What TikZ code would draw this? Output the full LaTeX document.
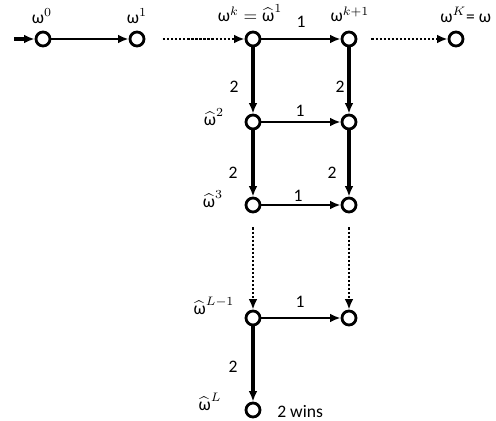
\documentclass[tikz,border=0pt]{standalone}
\usepackage{amsmath}
\usepackage{fontspec}
\setmainfont{Carlito}
\usetikzlibrary{arrows.meta}
\tikzset{
  >={Latex[length=6pt,width=5pt]},
  vertex/.style = {circle, draw, line width=1.6pt, fill=white,
                   inner sep=0, minimum size=2.8mm},
  hop/.style = {draw, ->, line width=1.25pt},
  drop/.style = {draw, ->, line width=1.9pt},
  skip/.style = {draw, ->, line width=1.5pt, dash pattern=on 1.3pt off 1pt},
  tag/.style = {font=\fontsize{10}{12}\selectfont, inner sep=0pt},
  weight/.style = {font=\fontsize{10}{12}\selectfont, inner sep=0pt},
}
\newcommand{\om}{\text{ω}}
\newcommand{\omhat}{\widehat{\text{ω}}}

\begin{document}
\begin{tikzpicture}[x=0.02cm, y=-0.02cm]
\useasboundingbox (0,0) rectangle (496,420);

% main row
\coordinate (in) at (14,39);
\node[vertex] (w0)  at (43,39)  {};
\node[vertex] (w1)  at (137,39) {};
\node[vertex] (wk)  at (253,39) {};
\node[vertex] (wk1) at (349,39) {};
\node[vertex] (wK)  at (456,39) {};

% ladder
\node[vertex] (h2)  at (253,122) {};
\node[vertex] (r2)  at (349,122) {};
\node[vertex] (h3)  at (253,205) {};
\node[vertex] (r3)  at (349,205) {};
\node[vertex] (hL1) at (253,318) {};
\node[vertex] (rL1) at (349,318) {};
\node[vertex] (hL)  at (253,410) {};

% edges
\draw[drop, line width=2.4pt] (in) -- (w0);
\draw[hop] (w0) -- (w1);
\draw[skip, shorten <=10pt] (w1) -- (wk);
\draw[hop] (wk) -- (wk1);
\draw[skip, shorten <=8pt] (wk1) -- (wK);

\draw[drop] (wk) -- (h2);
\draw[drop] (wk1) -- (r2);
\draw[hop] (h2) -- (r2);
\draw[drop] (h2) -- (h3);
\draw[drop] (r2) -- (r3);
\draw[hop] (h3) -- (r3);
\draw[skip, shorten <=8pt] (h3) -- (hL1);
\draw[skip, shorten <=8pt] (r3) -- (rL1);
\draw[hop] (hL1) -- (rL1);
\draw[drop] (hL1) -- (hL);

% labels
\node[tag] (t0)   at (42,16)  {$\om^{0}$};
\node[tag] (t1)   at (137,16) {$\om^{1}$};
\node[tag] (tk)   at (250,13) {$\om^{k}=\omhat^{1}$};
\node[tag] (tk1)  at (350,14) {$\om^{k+1}$};
\node[tag, anchor=west] (tK) at (440,15) {$\om^{K}$= ω};
\node[tag] (t2)   at (214,117) {$\omhat^{2}$};
\node[tag] (t3)   at (213,199) {$\omhat^{3}$};
\node[tag] (tL1)  at (214,306) {$\omhat^{L-1}$};
\node[tag] (tL)   at (210,402) {$\omhat^{L}$};
\node[weight, anchor=west] (win) at (277,412) {2 wins};

\node[weight] (a1) at (301,22)  {1};
\node[weight] (a2) at (300,111) {1};
\node[weight] (a3) at (298,196) {1};
\node[weight] (a4) at (300,302) {1};
\node[weight] (b1) at (234,87)  {2};
\node[weight] (c1) at (340,87)  {2};
\node[weight] (b2) at (233,173) {2};
\node[weight] (c2) at (332,173) {2};
\node[weight] (b3) at (233,367) {2};
\end{tikzpicture}
\end{document}
